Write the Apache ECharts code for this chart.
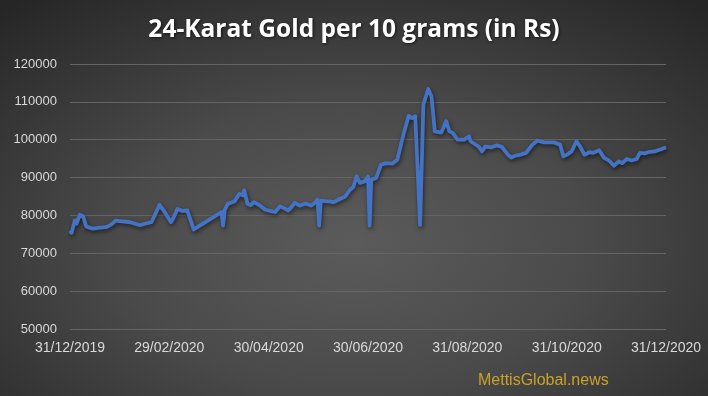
<!DOCTYPE html>
<html>
<head>
<meta charset="utf-8">
<script src="https://cdn.jsdelivr.net/npm/echarts@6/dist/echarts.min.js"></script>
<style>
html,body{margin:0;padding:0;}
#chart{width:708px;height:396px;background:radial-gradient(ellipse 75% 80% at 50% 62%, #5b5b5b 0%, #4a4a4a 45%, #333333 80%, #262626 100%);}
</style>
</head>
<body>
<div id="chart"></div>
<script>
// days since 31/12/2019
const days = [0,1,3,4,6,8,10,11,14,17,22,25,28,37,43,46,50,55,58,62,63,66,69,72,76,93,94,95,97,101,104,106,107,109,111,113,116,120,123,126,129,132,134,136,138,141,143,145,148,150,152,153,154,159,162,165,169,172,174,176,178,181,183,184,185,188,191,194,198,201,205,208,210,212,215,217,220,222,224,228,231,233,235,238,242,245,246,248,251,253,255,259,262,265,269,271,273,276,280,284,287,291,297,301,303,305,308,311,313,316,319,321,325,328,331,334,337,339,342,345,348,350,353,355,359,361,363,366];
const prices = [76000,75400,78700,77800,80200,79800,77100,77500,76500,76700,76900,77500,78600,78200,77400,77800,78200,82800,81000,78200,78900,81700,81200,81300,76300,80900,77300,81500,83100,83700,85700,85300,86600,83100,82700,83500,82800,81500,81200,80900,82400,81800,81300,82200,83300,82600,82900,83100,82600,83200,84200,77300,83900,83700,83500,84200,85000,86800,87500,90300,88600,89000,90300,77300,89400,89900,93400,93800,93700,94700,101800,106300,105700,106200,77500,109300,113400,111400,102200,101900,104900,102200,101800,100000,100000,100900,99600,99000,98200,96900,98200,98000,98500,98200,96000,95300,95700,96000,96500,98700,99800,99300,99300,98700,95600,96000,96900,99600,98400,96000,96700,96500,97200,95200,94500,93100,94300,93800,94900,94500,94900,96500,96400,96700,96900,97200,97500,98000];
const xTickLabels = ["31/12/2019","29/02/2020","30/04/2020","30/06/2020","31/08/2020","31/10/2020","31/12/2020"];
const yTicks = [50000,60000,70000,80000,90000,100000,110000,120000];
const titleText = "24-Karat Gold per 10 grams (in Rs)";
const sourceText = "MettisGlobal.news";

const chart = echarts.init(document.getElementById('chart'));
chart.setOption({
  backgroundColor: 'transparent',
  animation: false,
  title: {
    text: titleText,
    left: 'center',
    top: 13,
    textStyle: {
      color: '#ffffff',
      fontFamily: 'Open Sans',
      fontWeight: 'bold',
      fontSize: 24.5,
      textShadowColor: 'rgba(0,0,0,0.6)',
      textShadowBlur: 3,
      textShadowOffsetX: 1,
      textShadowOffsetY: 1
    }
  },
  graphic: [{
    type: 'text',
    left: 478,
    top: 373,
    style: {
      text: sourceText,
      fill: '#c9a227',
      font: '16px "Liberation Sans Narrow", "Liberation Sans", sans-serif'
    }
  }],
  grid: {left: 70, right: 42, top: 64, bottom: 67, containLabel: false},
  xAxis: {
    type: 'value',
    min: 0,
    max: 366,
    interval: 61,
    axisLine: {show: false},
    axisTick: {show: false},
    splitLine: {show: false},
    axisLabel: {
      color: '#d9d9d9',
      fontFamily: 'Liberation Sans',
      fontSize: 14,
      margin: 12,
      formatter: function (v) { return xTickLabels[Math.round(v / 61)] || ''; }
    }
  },
  yAxis: {
    type: 'value',
    min: yTicks[0],
    max: yTicks[yTicks.length - 1],
    interval: 10000,
    axisLine: {show: false},
    axisTick: {show: false},
    splitLine: {show: true, lineStyle: {color: '#646464', width: 1}},
    axisLabel: {
      color: '#d9d9d9',
      fontFamily: 'Liberation Sans',
      fontSize: 13,
      margin: 13,
      formatter: function (v) { return String(v); }
    }
  },
  series: [{
    type: 'line',
    data: days.map((d, i) => [d, prices[i]]),
    showSymbol: false,
    symbol: 'none',
    lineStyle: {
      color: '#4472C4',
      width: 3.8,
      shadowColor: 'rgba(0,0,0,0.55)',
      shadowBlur: 4,
      shadowOffsetX: 1,
      shadowOffsetY: 2,
      join: 'round'
    }
  }]
});
</script>
</body>
</html>
